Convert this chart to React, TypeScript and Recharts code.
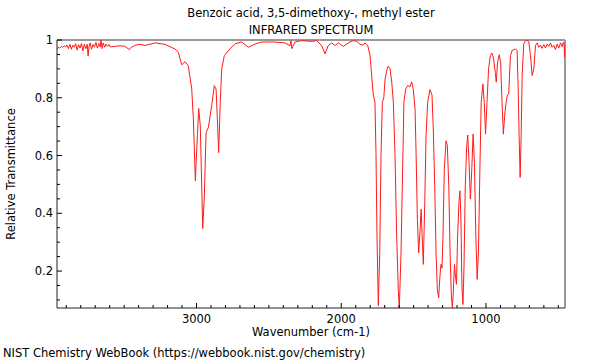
import React from 'react';
import { LineChart, Line, XAxis, YAxis, ReferenceLine } from 'recharts';

const title = 'Benzoic acid, 3,5-dimethoxy-, methyl ester';
const subtitle = 'INFRARED SPECTRUM';
const xLabel = 'Wavenumber (cm-1)';
const yLabel = 'Relative Transmittance';
const footer = 'NIST Chemistry WebBook (https://webbook.nist.gov/chemistry)';

const wavenumbers = [
  3964, 3955, 3945, 3935, 3925, 3915, 3905, 3895, 3885, 3875, 3865, 3855, 3845, 3835, 3825, 3815,
  3805, 3795, 3785, 3775, 3765, 3755, 3749, 3742, 3735, 3725, 3715, 3705, 3695, 3685, 3675, 3665,
  3660, 3652, 3645, 3635, 3625, 3615, 3605, 3595,
  3563, 3528, 3494, 3466, 3446, 3418, 3390, 3356, 3287, 3218, 3149, 3126, 3102, 3079, 3057, 3033,
  3022, 3008, 2994, 2985, 2974, 2957, 2946, 2934, 2918, 2895, 2877, 2865, 2856, 2847, 2836, 2826,
  2808, 2769, 2734, 2688, 2642, 2596, 2550, 2458, 2389, 2354, 2347, 2342, 2320, 2273, 2204, 2170,
  2135, 2112, 2090, 2066, 2043, 2020, 1986, 1951, 1917, 1893, 1871, 1848, 1836, 1817, 1801, 1790,
  1779, 1767, 1760, 1753, 1744, 1734, 1725, 1716, 1706, 1697, 1683, 1675, 1663, 1651, 1640, 1629,
  1617, 1606, 1599, 1587, 1578, 1567, 1555, 1541, 1525, 1513, 1502, 1490, 1483, 1474, 1465, 1455,
  1448, 1441, 1433, 1423, 1414, 1403, 1387, 1373, 1364, 1354, 1345, 1336, 1327, 1318, 1311, 1304,
  1297, 1288, 1276, 1267, 1257, 1248, 1239, 1232, 1225, 1218, 1211, 1204, 1196, 1187, 1180, 1173,
  1166, 1159, 1152, 1143, 1133, 1126, 1117, 1108, 1098, 1089, 1080, 1070, 1061, 1052, 1042, 1033,
  1021, 1012, 1003, 993, 982, 970, 959, 947, 936, 929, 920, 908, 899, 889, 880, 871,
  861, 852, 843, 831, 819, 796, 785, 778, 771, 764, 757, 750, 739, 727, 715, 704,
  692, 681, 669, 658, 646, 635, 623, 612, 600, 589, 577, 566, 554, 543, 531, 520,
  508, 497, 485, 474, 466, 460, 457, 454,
];

const transmittance = [
  0.968, 0.975, 0.972, 0.978, 0.974, 0.98, 0.976, 0.983, 0.97, 0.985, 0.968, 0.982, 0.975, 0.987, 0.965, 0.984,
  0.972, 0.988, 0.962, 0.986, 0.97, 0.985, 0.944, 0.978, 0.99, 0.968, 0.985, 0.975, 0.992, 0.972, 0.988, 0.976,
  1.0, 0.97, 0.99, 0.975, 0.986, 0.978, 0.984, 0.976,
  0.978, 0.98, 0.978, 0.967, 0.976, 0.983, 0.985, 0.981, 0.99, 0.985, 0.969, 0.958, 0.914, 0.925, 0.911, 0.83,
  0.727, 0.512, 0.669, 0.763, 0.703, 0.347, 0.46, 0.68, 0.697, 0.773, 0.842, 0.83, 0.726, 0.61, 0.784, 0.9,
  0.946, 0.969, 0.987, 0.993, 0.975, 0.986, 0.993, 0.993, 0.99, 0.98, 0.998, 0.97, 0.993, 0.998, 0.995, 0.998,
  0.98, 0.952, 0.981, 0.99, 0.981, 0.99, 0.978, 0.99, 0.998, 0.995, 0.986, 0.982, 0.99, 0.981, 0.946, 0.877,
  0.813, 0.784, 0.61, 0.321, 0.08, 0.263, 0.61, 0.784, 0.8, 0.865, 0.9, 0.909, 0.9, 0.854, 0.784, 0.61,
  0.321, 0.136, 0.07, 0.263, 0.495, 0.784, 0.83, 0.842, 0.838, 0.855, 0.828, 0.761, 0.61, 0.379, 0.263, 0.345,
  0.414, 0.321, 0.223, 0.437, 0.669, 0.784, 0.828, 0.81, 0.692, 0.495, 0.263, 0.136, 0.107, 0.183, 0.223, 0.21,
  0.321, 0.553, 0.651, 0.634, 0.495, 0.263, 0.113, 0.073, 0.136, 0.223, 0.183, 0.154, 0.321, 0.437, 0.478, 0.379,
  0.148, 0.084, 0.21, 0.495, 0.634, 0.671, 0.576, 0.449, 0.553, 0.674, 0.576, 0.321, 0.171, 0.263, 0.553, 0.784,
  0.848, 0.784, 0.674, 0.784, 0.9, 0.946, 0.955, 0.934, 0.888, 0.854, 0.923, 0.949, 0.923, 0.784, 0.674, 0.738,
  0.784, 0.81, 0.813, 0.946, 0.964, 0.969, 0.964, 0.842, 0.669, 0.524, 0.669, 0.877, 0.987, 0.998, 1.0, 0.993,
  0.946, 0.877, 0.9, 0.981, 0.99, 0.975, 0.982, 0.971, 0.984, 0.972, 0.986, 0.978, 0.99, 0.975, 0.982, 0.967,
  0.986, 0.972, 0.99, 0.977, 0.992, 0.985, 0.94, 0.985,
];

const xTicks: number[] = [];
for (let v = 500; v <= 3900; v += 100) xTicks.push(v);
const xMajor = [1000, 2000, 3000];

const yTicks: number[] = [];
for (let i = 2; i <= 20; i++) yTicks.push(Math.round(i * 5) / 100);
const yMajor: Record<string, string> = { '0.2': '0.2', '0.4': '0.4', '0.6': '0.6', '0.8': '0.8', '1': '1' };

const data = wavenumbers.map((w, i) => ({ wn: w, t: transmittance[i] }));

const FONT = '"DejaVu Sans", sans-serif';
const FS = 11.5;

const XTick = (props: any) => {
  const { x, y, payload } = props;
  const v = payload.value;
  const major = xMajor.includes(v);
  return (
    <g>
      <line x1={x} x2={x} y1={y} y2={y - (major ? 5 : 3)} stroke="#000" strokeWidth={1} />
      {major && (
        <text x={x} y={y + 15} textAnchor="middle" fontSize={FS} fontFamily={FONT} fill="#000">
          {v}
        </text>
      )}
    </g>
  );
};

const YTick = (props: any) => {
  const { x, y, payload } = props;
  const key = String(Math.round(payload.value * 100) / 100);
  const label = yMajor[key];
  return (
    <g>
      <line x1={x} x2={x + (label ? 5 : 3)} y1={y} y2={y} stroke="#000" strokeWidth={1} />
      {label && (
        <text x={x - 4} y={y + 4} textAnchor="end" fontSize={FS} fontFamily={FONT} fill="#000">
          {label}
        </text>
      )}
    </g>
  );
};

export default function App() {
  return (
    <div style={{ position: 'absolute', left: 0, top: 0, width: 600, height: 360, background: '#fff', fontFamily: FONT }}>
      <div style={{ position: 'absolute', left: 0, width: 622, top: 5, textAlign: 'center', fontSize: FS, lineHeight: '16px' }}>{title}</div>
      <div style={{ position: 'absolute', left: 0, width: 622, top: 22, textAlign: 'center', fontSize: FS, lineHeight: '16px' }}>{subtitle}</div>
      <div style={{ position: 'absolute', left: 0, width: 622, top: 324, textAlign: 'center', fontSize: FS, lineHeight: '16px' }}>{xLabel}</div>
      <div style={{ position: 'absolute', left: 3, top: 345, fontSize: FS, lineHeight: '16px' }}>{footer}</div>
      <div style={{ position: 'absolute', left: 11, top: 174, width: 0, height: 0 }}>
        <div style={{ position: 'absolute', transform: 'translate(-50%, -50%) rotate(-90deg)', whiteSpace: 'nowrap', fontSize: FS, lineHeight: '16px' }}>{yLabel}</div>
      </div>
      <div style={{ position: 'absolute', left: 0, top: 0 }}>
        <LineChart width={600} height={360} data={data} margin={{ top: 40, right: 35, bottom: 22, left: 17 }}>
          <XAxis
            dataKey="wn"
            type="number"
            domain={[454, 3964]}
            reversed
            allowDataOverflow
            ticks={xTicks}
            interval={0}
            tickSize={0}
            tickMargin={0}
            height={30}
            axisLine={{ stroke: '#222', strokeWidth: 1 }}
            tickLine={false}
            tick={<XTick />}
          />
          <YAxis
            type="number"
            domain={[0.072, 1.0]}
            allowDataOverflow
            ticks={yTicks}
            interval={0}
            tickSize={0}
            tickMargin={0}
            width={40}
            axisLine={{ stroke: '#222', strokeWidth: 1 }}
            tickLine={false}
            tick={<YTick />}
          />
          <ReferenceLine y={1.0} stroke="#999" strokeWidth={2} ifOverflow="extendDomain" />
          <ReferenceLine x={454} stroke="#999" strokeWidth={2} />
          <Line
            type="linear"
            dataKey="t"
            stroke="#ff1a1a"
            strokeWidth={1}
            dot={false}
            isAnimationActive={false}
          />
        </LineChart>
      </div>
    </div>
  );
}
